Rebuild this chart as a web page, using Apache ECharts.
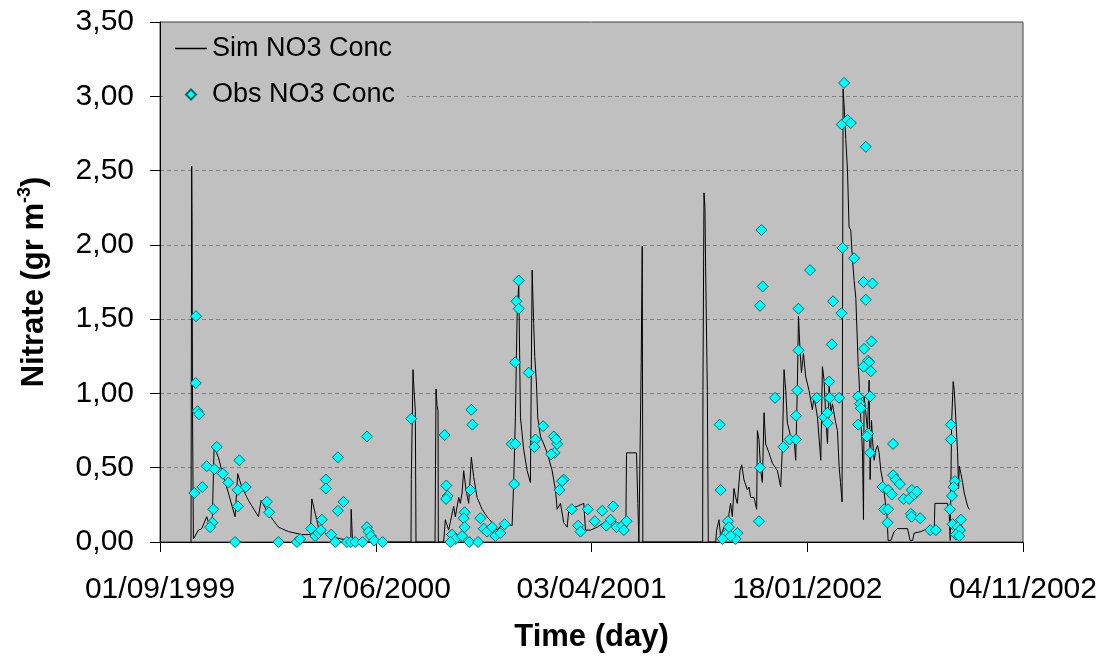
<!DOCTYPE html>
<html>
<head>
<meta charset="utf-8">
<script src="https://cdn.jsdelivr.net/npm/echarts@6/dist/echarts.min.js"></script>
<style>
html,body{margin:0;padding:0;background:#fff;}
#chart{width:1104px;height:656px;}
</style>
</head>
<body>
<div id="chart"></div>
<script>
// x values: days since 01/09/1999
var xTickLabels = ['01/09/1999', '17/06/2000', '03/04/2001', '18/01/2002', '04/11/2002'];
var xTickStep = 290;
var yTicks = [0, 0.5, 1, 1.5, 2, 2.5, 3, 3.5];

// Simulated NO3 concentration [day, gr m-3]
var simNO3 = [
[41.7,0],[42.6,2.53],[43.1,2.14],[43.7,0.89],[44.9,0.02],[51.6,0.08],[56.1,0.09],[62.8,0.17],[67.3,0.10],[70.4,0.17],
[72.7,0.64],[78.5,0.57],[85.2,0.44],[91.9,0.33],[100.9,0.17],[104.5,0.46],[109.9,0.37],[118.9,0.28],[132.3,0.17],
[135.9,0.28],[145.7,0.19],[159.2,0.10],[172.7,0.07],[190.6,0.05],[201.9,0.05],[204.1,0.29],[213.0,0.10],[226.5,0.04],
[244.5,0.02],[256.4,0.01],[257.0,0.22],[258.8,0],
[337.4,0],[337.8,0.42],[340.1,1.16],[340.9,1.07],[343.2,0.88],[344.1,0],
[369.7,0],[371.0,1.03],[372.4,0.92],[373.7,0.88],[374.1,0],
[381.2,0],[383.5,0.15],[388.0,0.08],[394.7,0.24],[397.0,0.17],[401.5,0.30],[403.7,0.26],[406.0,0.33],[408.2,0.48],
[411.4,0.35],[414.9,0.26],[418.5,0.57],[421.6,0.44],[426.2,0.30],[432.9,0.22],[439.6,0.17],[446.4,0.13],[453.1,0.08],
[462.0,0.13],[473.3,0.11],[475.4,0.40],[477.7,0.84],[480.0,1.52],[482.2,1.74],[484.5,0.84],[488.9,0.62],[493.5,0.48],
[497.9,0.40],[500.2,1.83],[502.3,1.47],[503.7,1.25],[506.0,1.07],[507.7,0.84],[511.4,0.71],[515.8,0.66],[520.4,0.60],
[527.1,0.48],[531.6,0.35],[533.8,0.22],[538.3,0.26],[542.7,0.13],[547.3,0.10],[549.5,0.22],[560.8,0.24],[569.6,0.26],
[571.9,0.08],[578.6,0.08],[587.7,0.10],[596.5,0.13],[605.6,0.15],[614.6,0.13],[623.5,0.11],[626.2,0.11],[627.1,0.60],
[640.5,0.60],[642.3,0.26],[643.7,0],
[646.3,0],[646.8,1.21],[648.2,1.99],[649.0,0],
[729.4,0],[729.8,1.02],[731.2,2.35],[732.5,2.25],[733.4,1.85],[735.7,1.02],[737.0,0],
[746.9,0],[748.2,0.08],[751.3,0.15],[753.6,0.04],[758.1,0.10],[762.6,0.08],[764.8,0.19],[767.0,0.26],[769.3,0.17],
[771.5,0.36],[773.8,0.30],[776.0,0.26],[779.6,0.48],[781.9,0.52],[784.9,0.42],[789.5,0.35],[791.7,0.37],[794.0,0.30],
[798.4,0.30],[802.0,0.22],[803.0,0.75],[805.1,0.69],[807.4,0.48],[809.7,0.40],[811.9,0.87],[814.1,0.66],[818.6,0.60],
[823.2,0.53],[829.9,0.48],[834.3,0.37],[836.6,0.64],[838.8,1.16],[841.1,1.02],[843.3,0.80],[847.8,0.71],[852.3,0.69],
[854.5,0.55],[856.8,1.07],[858.2,1.52],[860.3,1.29],[862.2,1.14],[864.9,1.27],[868.0,1.11],[872.4,1.02],[876.9,0.89],
[879.2,0.98],[883.7,0.84],[888.2,0.55],[890.4,1.18],[892.6,1.09],[894.9,0.84],[897.2,0.66],[899.4,1.07],[901.6,0.87],
[903.9,0.93],[908.3,0.80],[910.6,0.75],[912.8,0.51],[914.7,0.40],[916.8,0.27],[918.2,3.05],[920.0,2.90],[921.8,2.71],
[924.1,2.50],[926.2,2.12],[928.5,2.10],[930.8,1.90],[933.0,1.76],[935.3,1.64],[938.4,1.20],[939.7,1.09],[941.0,0.93],
[944.3,0.60],[945.6,0.15],[946.4,0.98],[948.7,0.87],[951.0,0.75],[953.2,1.09],[954.5,0.42],[956.4,0.82],[957.7,0.69],
[959.9,0.55],[962.2,0.62],[964.5,0.65],[966.6,0.60],[968.9,0.48],[971.2,0.42],[973.4,0.33],[975.6,0.24],[977.0,0.19],
[978.7,0.01],[982.4,0.01],[986.8,0.07],[991.4,0.09],[1004.8,0.09],[1008.3,0.01],[1011.6,0.01],[1013.7,0.06],[1022.7,0.07],
[1031.7,0.09],[1033.9,0.05],[1040.6,0.07],[1041.6,0.26],[1058.6,0.26],[1060.8,0.19],[1062.2,0.01],[1064.0,0.80],
[1066.2,1.08],[1067.6,1.02],[1069.8,0.82],[1072.1,0.60],[1073.4,0.36],[1074.3,0.51],[1076.6,0.46],[1078.8,0.40],
[1081.0,0.33],[1085.6,0.24],[1087.7,0.22]
];

// Observed NO3 concentration [day, gr m-3]
var obsNO3 = [
[48.4,1.52],[48.0,1.07],[50.5,0.88],[52.5,0.86],[46.2,0.33],[56.9,0.37],[62.8,0.51],[76.3,0.64],[73.1,0.49],[84.4,0.46],
[91.9,0.40],[71.7,0.22],[70.4,0.13],[67.3,0.10],[106.7,0.55],[104.6,0.35],[104.6,0.24],[115.3,0.37],[100.9,0.00],
[143.6,0.27],[146.7,0.20],[159.2,0],[184.0,0],[188.4,0.02],[203.2,0.09],[208.6,0.04],[213.0,0.06],[216.3,0.08],
[217.6,0.15],[223.0,0.42],[223.0,0.36],[230.1,0.05],[235.5,0],[239.1,0.57],[239.1,0.21],[246.7,0.27],[251.2,0],
[256.6,0],[262.4,0],[272.2,0],[278.2,0.71],[278.2,0.10],[280.3,0.07],[283.5,0.04],[288.0,0.01],[299.2,0],
[337.8,0.83],[382.6,0.72],[418.5,0.89],[419.9,0.79],[384.9,0.38],[386.6,0.31],[384.5,0.29],[417.2,0.35],[409.5,0.20],
[408.2,0.16],[409.5,0.10],[430.6,0.16],[435.1,0.09],[439.6,0.07],[446.4,0.10],[450.8,0.04],[457.5,0.06],[463.3,0.12],
[392.5,0.05],[397.0,0.02],[406.0,0.04],[415.8,0],[427.5,0],[390.3,0],[482.2,1.76],[479.1,1.62],[482.2,1.57],[477.3,1.21],
[495.6,1.14],[472.7,0.66],[477.7,0.66],[476.0,0.39],[515.0,0.78],[504.6,0.69],[503.3,0.64],[529.3,0.71],[533.8,0.66],
[532.5,0.69],[530.2,0.60],[525.8,0.59],[542.7,0.42],[540.6,0.41],[536.9,0.35],[553.5,0.22],[562.1,0.11],[565.2,0.07],
[575.0,0.22],[584.4,0.14],[594.4,0.21],[599.8,0.11],[605.6,0.15],[609.2,0.24],[613.6,0.10],[621.3,0.11],[627.1,0.14],
[623.5,0.08],
[752.3,0.79],[753.6,0.35],[763.4,0.14],[764.8,0.10],[760.3,0.05],[755.9,0.02],[776.1,0.06],[773.8,0.02],[767.0,0.04],
[808.4,2.10],[810.1,1.72],[806.5,1.59],[806.5,0.50],[805.1,0.14],[826.7,0.97],[838.0,0.64],[846.4,0.69],[854.9,0.69],
[854.9,0.85],[856.8,1.02],[858.2,1.29],[858.2,1.57],[873.8,1.83],[882.8,0.97],[892.6,0.84],[897.2,0.87],[897.2,0.80],
[899.4,1.08],[899.4,0.97],[903.0,1.33],[904.7,1.62],[912.8,0.97],
[919.5,3.09],[916.4,2.81],[924.1,2.84],[928.5,2.82],[948.7,2.66],[917.4,1.98],[933.0,1.91],[945.6,1.75],[957.7,1.74],
[948.7,1.63],[916.0,1.54],[956.4,1.35],[946.4,1.30],[951.8,1.22],[953.2,1.21],[945.6,1.18],[955.5,1.15],[900.3,0.97],
[938.4,0.98],[941.0,0.93],[942.0,0.90],[954.5,0.98],[938.4,0.79],[951.8,0.73],[950.1,0.71],[954.5,0.60],[985.4,0.66],
[985.4,0.45],[989.1,0.42],[994.5,0.39],[971.2,0.37],[978.7,0.35],[983.7,0.32],[973.4,0.22],[978.7,0.22],[977.9,0.13],
[999.5,0.29],[1007.0,0.29],[1010.6,0.35],[1016.0,0.33],[1013.7,0.32],[1017.3,0.34],[1009.3,0.19],[1010.2,0.17],
[1021.8,0.16],[1035.3,0.08],[1042.9,0.08],[1063.1,0.79],[1063.1,0.69],[1068.5,0.41],[1066.7,0.37],[1064.5,0.31],
[1061.8,0.22],[1076.6,0.15],[1065.4,0.12],[1072.1,0.10],[1075.2,0.08],[1069.8,0.05],[1074.3,0.04]
];

var FONT = '"Liberation Sans", Arial, sans-serif';
var chart = echarts.init(document.getElementById('chart'), null, {renderer: 'canvas'});
chart.setOption({
  backgroundColor: '#ffffff',
  animation: false,
  grid: {left: 160, right: 81, top: 22, bottom: 114, show: true, outerBoundsMode: 'none', containLabel: false,
    backgroundColor: '#c0c0c0', borderColor: '#404040', borderWidth: 1},
  legend: {
    orient: 'vertical', left: 163, top: 27,
    padding: [8, 12, 8, 12], itemGap: 19,
    itemWidth: 32, itemHeight: 10,
    backgroundColor: '#c0c0c0',
    textStyle: {fontFamily: FONT, fontSize: 27, color: '#000'},
    data: [
      {name: 'Sim NO3 Conc', icon: 'path://M0,0L32,0L32,1.5L0,1.5Z'},
      {name: 'Obs NO3 Conc', icon: 'path://M5,0L10,5L5,10L0,5Z'}
    ]
  },
  xAxis: {
    type: 'value', min: 0, max: xTickStep * (xTickLabels.length - 1), interval: xTickStep,
    name: 'Time (day)', nameLocation: 'middle', nameGap: 80,
    nameTextStyle: {fontFamily: FONT, fontSize: 31, fontWeight: 'bold', color: '#000'},
    axisLine: {show: true, onZero: false, lineStyle: {color: '#000', width: 1}},
    axisTick: {show: true, inside: false, length: 10, lineStyle: {color: '#000'}},
    axisLabel: {fontFamily: FONT, fontSize: 30, color: '#000', margin: 33,
      formatter: function (v) { var i = Math.round(v / xTickStep); return xTickLabels[i] || ''; }},
    splitLine: {show: false}
  },
  yAxis: {
    type: 'value', min: yTicks[0], max: yTicks[yTicks.length - 1], interval: 0.5,
    name: '{a|Nitrate (gr m}{s|-3}{a|)}', nameLocation: 'middle', nameGap: 108, nameRotate: 90,
    nameTextStyle: {rich: {
      a: {fontFamily: FONT, fontSize: 31, fontWeight: 'bold', color: '#000', lineHeight: 36},
      s: {fontFamily: FONT, fontSize: 18, fontWeight: 'bold', color: '#000', verticalAlign: 'top', lineHeight: 36}
    }},
    axisLine: {show: true, lineStyle: {color: '#000', width: 1}},
    axisTick: {show: true, inside: false, length: 10, lineStyle: {color: '#000'}},
    axisLabel: {fontFamily: FONT, fontSize: 30, color: '#000', margin: 26,
      formatter: function (v) { return v.toFixed(2).replace('.', ','); }},
    splitLine: {show: true, lineStyle: {color: '#808080', type: [4, 3], width: 1}}
  },
  series: [
    {
      name: 'Sim NO3 Conc', type: 'line', data: simNO3, showSymbol: false, symbol: 'none',
      color: '#000', lineStyle: {color: '#000', width: 1}, z: 2
    },
    {
      name: 'Obs NO3 Conc', type: 'scatter', data: obsNO3, symbol: 'diamond', symbolSize: 11,
      itemStyle: {color: '#00ffff', borderColor: '#006a6a', borderWidth: 1, opacity: 1}, z: 3
    }
  ]
});
</script>
</body>
</html>
